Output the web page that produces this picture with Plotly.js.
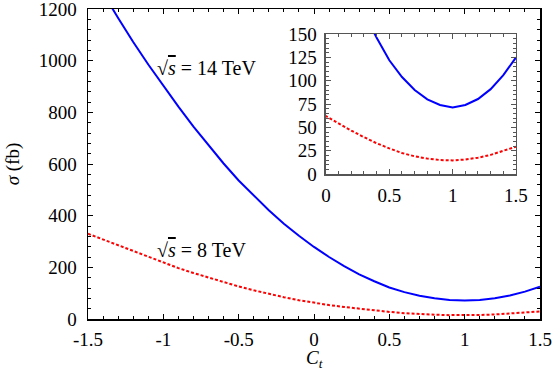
<!DOCTYPE html>
<html>
<head>
<meta charset="utf-8">
<script src="https://cdn.plot.ly/plotly-3.0.1.min.js"></script>
<style>html,body{margin:0;padding:0;background:#fff}#chart{width:556px;height:371px}</style>
</head>
<body>
<div id="chart"></div>
<script>
// Coupling C_t values
const ct = [-1.5,-1.4,-1.3,-1.2,-1.1,-1.0,-0.9,-0.8,-0.7,-0.6,-0.5,-0.4,-0.3,-0.2,-0.1,0,
            0.1,0.2,0.3,0.4,0.5,0.6,0.7,0.8,0.9,1.0,1.1,1.2,1.3,1.4,1.5];
// sigma (fb) at sqrt(s) = 14 TeV
const sigma14 = [1365,1262,1165,1072,985,902,822,745,672,602,536,477,421,369,322,279,
                 240,205,173,146,122,104,90,80,74,71.4,74,80.4,91,106,125];
// sigma (fb) at sqrt(s) = 8 TeV
const sigma8 = [330,308,284,261,239,218,197,178,160,142.5,126,111,97,84.5,72.7,62,
                54,46.5,39.5,33,27.5,22.5,19,16.5,15,14.6,15.5,17.5,20.5,24.5,29.3];
// Tick labels
const xMainVals = [-1.5,-1,-0.5,0,0.5,1,1.5];
const xMainText = ["-1.5","-1","-0.5","0","0.5","1","1.5"];
const yMainVals = [0,200,400,600,800,1000,1200];
const xInsetVals = [0,0.5,1,1.5];
const xInsetText = ["0","0.5","1","1.5"];
const yInsetVals = [0,25,50,75,100,125,150];
const label14 = "√<span style='text-decoration:overline'><i>s</i></span> = 14 TeV";
const label8 = "√<span style='text-decoration:overline'><i>s</i></span> = 8 TeV";
const xTitle = '<i>C</i><sub><i>t</i></sub>';
const yTitle = '<i>σ</i> (fb)';

const FONT = '"Liberation Serif", "Times New Roman", "DejaVu Serif", serif';
const blueLine = {color:'#0000ff', width:2};
const redLine = {color:'#ff0000', width:2, dash:'3px,2px'};

const traces = [
  {x:ct, y:sigma14, type:'scatter', mode:'lines', line:blueLine, xaxis:'x', yaxis:'y'},
  {x:ct, y:sigma8, type:'scatter', mode:'lines', line:redLine, xaxis:'x', yaxis:'y'},
  {x:ct, y:sigma14, type:'scatter', mode:'lines', line:blueLine, xaxis:'x2', yaxis:'y2'},
  {x:ct, y:sigma8, type:'scatter', mode:'lines', line:redLine, xaxis:'x2', yaxis:'y2'}
];

const axCommon = {
  showgrid:false, zeroline:false, showline:true, mirror:'allticks',
  ticks:'inside', ticklen:5, tickwidth:1, fixedrange:true, ticklabeloverflow:'allow',
  tickfont:{family:FONT, size:19, color:'#000'}
};

const layout = {
  width:556, height:371,
  margin:{l:88, r:16, t:9, b:52},
  paper_bgcolor:'#fff', plot_bgcolor:'#fff',
  showlegend:false,
  font:{family:FONT, size:19, color:'#000'},
  xaxis: Object.assign({}, axCommon, {
    range:[-1.5,1.5], tickmode:'array', tickvals:xMainVals, ticktext:xMainText,
    linecolor:'#000', linewidth:1.5, tickcolor:'#000',
    minor:{tickmode:'linear', tick0:-1.5, dtick:0.1, ticks:'inside', ticklen:3, tickcolor:'#000'},
    ticklabelstandoff:3
  }),
  yaxis: Object.assign({}, axCommon, {
    range:[0,1200], tickmode:'array', tickvals:yMainVals,
    linecolor:'#000', linewidth:1.5, tickcolor:'#000',
    minor:{tickmode:'linear', tick0:0, dtick:40, ticks:'inside', ticklen:3, tickcolor:'#000'},
    title:{text:yTitle, font:{family:FONT, size:19}, standoff:14},
    ticklabelstandoff:6
  }),
  xaxis2: Object.assign({}, axCommon, {
    domain:[0.5265,0.9469], anchor:'y2',
    range:[0,1.5], tickmode:'array', tickvals:xInsetVals, ticktext:xInsetText,
    linecolor:'#555', linewidth:1.5, tickcolor:'#555',
    minor:{tickmode:'linear', tick0:0, dtick:0.1, ticks:'inside', ticklen:3, tickcolor:'#555'},
    ticklabelstandoff:4
  }),
  yaxis2: Object.assign({}, axCommon, {
    domain:[0.4677,0.919], anchor:'x2',
    range:[0,150], tickmode:'array', tickvals:yInsetVals,
    linecolor:'#555', linewidth:1.5, tickcolor:'#555',
    minor:{tickmode:'linear', tick0:0, dtick:5, ticks:'inside', ticklen:3, tickcolor:'#555'},
    ticklabelstandoff:4
  }),
  annotations:[
    {x:-1.055, y:972, xref:'x', yref:'y', text:label14, showarrow:false, xanchor:'left', yanchor:'middle', font:{family:FONT, size:20}},
    {x:-1.055, y:267, xref:'x', yref:'y', text:label8, showarrow:false, xanchor:'left', yanchor:'middle', font:{family:FONT, size:20}},
    {x:0.502, y:-0.128, xref:'paper', yref:'paper', text:xTitle, showarrow:false, xanchor:'center', yanchor:'middle', font:{family:FONT, size:19}}
  ]
};

Plotly.newPlot('chart', traces, layout, {displayModeBar:false, staticPlot:true});
</script>
</body>
</html>
